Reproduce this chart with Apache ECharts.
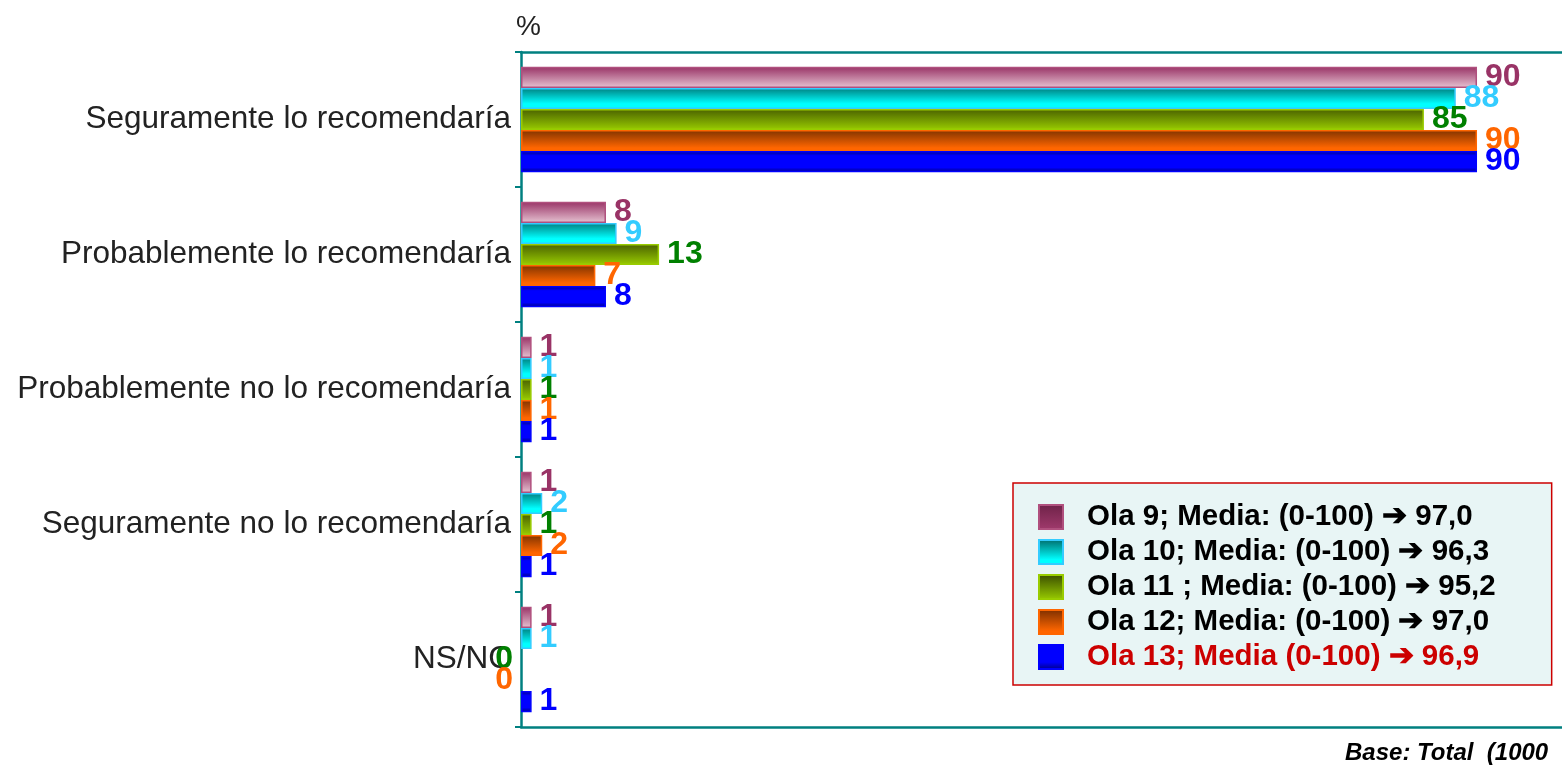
<!DOCTYPE html>
<html>
<head>
<meta charset="utf-8">
<script src="https://cdn.jsdelivr.net/npm/echarts@6/dist/echarts.min.js"></script>
<style>
html,body{margin:0;padding:0;background:#fff;}
#main{width:1562px;height:768px;}
</style>
</head>
<body>
<div id="main"></div>
<script>
const categories = [
  'Seguramente lo recomendaría',
  'Probablemente lo recomendaría',
  'Probablemente no lo recomendaría',
  'Seguramente no lo recomendaría',
  'NS/NC'
];
const seriesNames = [
  'Ola 9; Media: (0-100) \u2794 97,0',
  'Ola 10; Media: (0-100) \u2794 96,3',
  'Ola 11 ; Media: (0-100) \u2794 95,2',
  'Ola 12; Media: (0-100) \u2794 97,0',
  'Ola 13; Media (0-100) \u2794 96,9'
];
const ola9  = [90, 8, 1, 1, 1];
const ola10 = [88, 9, 1, 2, 1];
const ola11 = [85, 13, 1, 1, 0];
const ola12 = [90, 7, 1, 2, 0];
const ola13 = [90, 8, 1, 1, 1];
const seriesValues = [ola9, ola10, ola11, ola12, ola13];

function vgrad(stops) {
  return new echarts.graphic.LinearGradient(0, 0, 0, 1,
    stops.map(s => ({offset: s[0], color: s[1]})));
}
const styles = [
  {fill: vgrad([[0,'#993366'],[1,'#e6c3d2']]), icon: vgrad([[0,'#6e2248'],[1,'#a03a6c']]), border: '#b0507e', label: '#993366'},
  {fill: vgrad([[0,'#008080'],[0.75,'#00ffff'],[1,'#00ffff']]), icon: vgrad([[0,'#006a6a'],[0.8,'#00ffff'],[1,'#00ffff']]), border: '#33ccff', label: '#33ccff'},
  {fill: vgrad([[0,'#4a6100'],[1,'#99cc00']]), icon: vgrad([[0,'#3a4d00'],[1,'#99cc00']]), border: '#99cc00', label: '#008000'},
  {fill: vgrad([[0,'#803300'],[0.85,'#ff6600'],[1,'#ff6600']]), icon: vgrad([[0,'#7a2e00'],[0.85,'#ff6600'],[1,'#ff6600']]), border: '#ff6600', label: '#ff6600'},
  {fill: vgrad([[0,'#000080'],[0.22,'#0000ff'],[0.78,'#0000ff'],[1,'#000080']]), icon: vgrad([[0,'#0000ff'],[0.7,'#0000ff'],[1,'#000080']]), border: '#0000ff', label: '#0000ff'}
];

const series = seriesValues.map((vals, i) => ({
  name: seriesNames[i],
  type: 'bar',
  barGap: '0%',
  barCategoryGap: '22%',
  itemStyle: {color: styles[i].fill, borderColor: styles[i].border, borderWidth: 1.5},
  label: {
    show: true, position: 'right', distance: 8,
    color: styles[i].label, fontSize: 32, fontWeight: 'bold',
    fontFamily: 'Liberation Sans, Arial, sans-serif'
  },
  data: vals.map(v => v === 0
    ? {value: v, itemStyle: {borderWidth: 0}, label: {position: 'left', distance: 8}}
    : v)
}));

const chart = echarts.init(document.getElementById('main'));
chart.setOption({
  animation: false,
  textStyle: {fontFamily: 'Liberation Sans, Arial, sans-serif'},
  title: [
    {text: '%', left: 511, top: 8, textStyle: {fontSize: 28, fontWeight: 'normal', color: '#222'}},
    {text: 'Base: Total  (1000', left: 1340, top: 736, textStyle: {fontSize: 24, fontWeight: 'bold', fontStyle: 'italic', color: '#000'}}
  ],
  grid: {left: 521, top: 52, right: 0, bottom: 41},
  xAxis: [
    {type: 'value', min: 0, max: 98, axisLabel: {show: false}, splitLine: {show: false},
     axisTick: {show: false}, axisLine: {show: true, lineStyle: {color: '#008080', width: 2.5}}},
    {type: 'value', position: 'top', min: 0, max: 98, axisLabel: {show: false}, splitLine: {show: false},
     axisTick: {show: false}, axisLine: {show: true, lineStyle: {color: '#008080', width: 2.5}}}
  ],
  yAxis: {
    type: 'category', inverse: true, data: categories,
    axisLine: {lineStyle: {color: '#008080', width: 2.5}},
    axisTick: {show: true, length: 6, lineStyle: {color: '#008080', width: 2}},
    axisLabel: {fontSize: 31.5, color: '#222', margin: 10}
  },
  legend: {
    orient: 'vertical', left: 1013, top: 483,
    backgroundColor: '#e8f5f5', borderColor: '#cc0000', borderWidth: 1.5,
    padding: [19, 56, 13, 25],
    itemWidth: 24, itemHeight: 24, itemGap: 5,
    icon: 'rect',
    textStyle: {fontSize: 29.5, fontWeight: 'bold', color: '#000', padding: [0, 0, 0, 19]},
    data: seriesNames.map((n, i) => {
      const d = {name: n, itemStyle: {color: styles[i].icon}};
      if (i === 4) d.textStyle = {color: '#cc0000'};
      return d;
    })
  },
  series: series
});
</script>
</body>
</html>
